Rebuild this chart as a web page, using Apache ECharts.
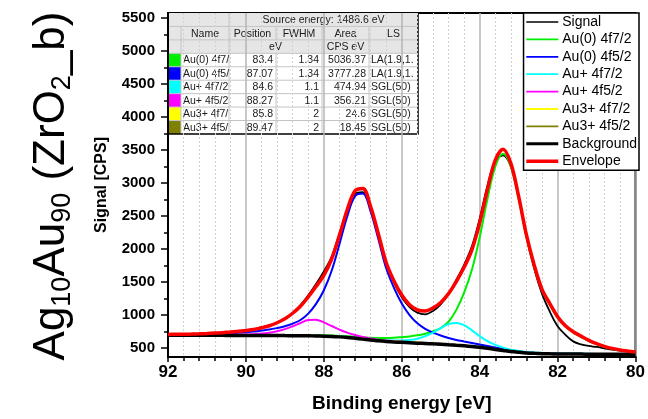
<!DOCTYPE html>
<html><head><meta charset="utf-8">
<script src="https://cdn.jsdelivr.net/npm/echarts@6/dist/echarts.min.js"></script>
<style>html,body{margin:0;padding:0;background:#fff}#chart{width:648px;height:419px}</style>
</head><body><div id="chart"></div><script>
// Au 4f region, binding energy grid (eV)
const energy = [92.0,91.8,91.6,91.4,91.2,91.0,90.8,90.6,90.4,90.2,90.0,89.8,89.6,89.4,89.2,89.0,88.8,88.6,88.4,88.2,
  88.0,87.8,87.6,87.4,87.2,87.0,86.8,86.6,86.4,86.2,86.0,85.8,85.6,85.4,85.2,85.0,84.8,84.6,84.4,84.2,
  84.0,83.8,83.6,83.4,83.2,83.0,82.8,82.6,82.4,82.2,82.0,81.8,81.6,81.4,81.2,81.0,80.8,80.6,80.4,80.2,80.0];

const signal = [703,705,707,709,712,718,724,731,743,752,770,784,815,842,880,945,1030,1150,1300,1470,
  1660,1880,2230,2580,2830,2860,2630,2220,1780,1490,1270,1120,1035,1010,1060,1160,1320,1530,1760,2040,
  2460,2960,3330,3420,3250,2780,2180,1700,1320,1050,830,700,600,555,530,515,495,475,460,448,438];

const au0_4f72 = [693,693,693,693,692,693,693,693,692,693,693,692,693,692,693,692,692,692,692,691,
  689,687,682,677,669,662,655,652,650,654,664,675,692,715,752,801,897,1077,1337,1684,
  2179,2760,3249,3442,3247,2758,2182,1729,1368,1156,960,825,735,669,606,556,517,487,463,447,433];

const au0_4f52 = [699,700,701,703,705,708,713,717,723,730,739,749,764,779,802,829,869,924,1021,1168,
  1375,1670,2073,2494,2799,2842,2569,2148,1707,1411,1175,999,873,790,732,688,652,622,598,575,
  552,530,506,485,464,449,436,428,422,418,415,413,411,411,409,409,408,407,407,407,407];

const aup_4f72 = [693,693,693,693,692,692,692,693,692,692,692,691,691,690,691,690,689,688,687,686,
  683,680,674,665,654,643,631,622,615,612,614,622,641,677,732,801,861,880,845,767,
  680,604,546,505,475,455,440,431,425,420,416,414,413,412,411,410,409,408,408,408,408];

const aup_4f52 = [695,696,696,696,696,697,698,699,700,702,705,708,718,732,753,785,829,878,923,928,
  887,833,778,732,696,667,643,625,612,602,594,586,579,573,567,560,552,544,535,525,
  513,498,480,464,448,436,426,420,415,412,410,409,408,408,407,407,406,406,406,406,406];

const au3_4f72 = [692,692,692,692,691,691,691,691,690,690,690,689,689,688,688,687,686,685,685,683,
  680,676,670,661,650,638,625,616,607,600,595,589,583,577,570,563,553,544,535,524,
  512,496,479,463,447,434,424,418,414,411,409,408,407,407,406,406,405,405,405,405,405];

const au3_4f52 = [693,693,693,693,693,693,694,694,694,695,696,696,696,695,695,693,691,689,687,685,
  681,677,669,660,648,635,621,610,600,592,586,579,573,568,562,556,548,540,532,522,
  510,495,478,462,446,434,424,418,414,411,409,408,407,407,406,406,405,405,405,405,405];

const background = [692,692,692,692,691,691,691,691,690,690,690,689,689,688,688,687,686,685,684,682,
  679,675,668,659,647,634,620,609,599,591,585,579,573,568,562,556,548,540,532,522,
  510,495,478,462,446,434,424,418,414,411,409,408,407,407,406,406,405,405,405,405,405];

const envelope = [705,707,708,710,714,719,726,732,741,752,765,780,806,836,882,941,1026,1131,1275,1431,
  1600,1848,2206,2594,2881,2917,2644,2228,1796,1516,1303,1155,1076,1060,1105,1189,1323,1507,1722,1987,
  2396,2908,3348,3511,3297,2796,2212,1754,1388,1173,974,837,746,679,615,564,525,493,469,453,439];

const yTicks = [500,1000,1500,2000,2500,3000,3500,4000,4500,5000,5500];
const yMinorTicks = [750,1250,1750,2250,2750,3250,3750,4250,4750,5250];

// fit parameter table
const tableNames = ['Au(0) 4f7/','Au(0) 4f5/','Au+ 4f7/2','Au+ 4f5/2','Au3+ 4f7/','Au3+ 4f5/'];
const tablePos = ['83.4','87.07','84.6','88.27','85.8','89.47'];
const tableFwhm = ['1.34','1.34','1.1','1.1','2','2'];
const tableArea = ['5036.37','3777.28','474.94','356.21','24.6','18.45'];
const tableLS = ['LA(1.9,1.','LA(1.9,1.','SGL(50)','SGL(50)','SGL(50)','SGL(50)'];
const headerCols = ['Name','Position','FWHM','Area','LS'];
const sourceText = 'Source energy: 1486.6 eV';

const seriesDefs = [
  {name:'Signal', data:signal, color:'#000000', width:1.8, legendWidth:1.4},
  {name:'Au(0) 4f7/2', data:au0_4f72, color:'#00ee00', width:2, legendWidth:1.8},
  {name:'Au(0) 4f5/2', data:au0_4f52, color:'#0000ff', width:2, legendWidth:1.8},
  {name:'Au+ 4f7/2', data:aup_4f72, color:'#00ffff', width:2, legendWidth:1.8},
  {name:'Au+ 4f5/2', data:aup_4f52, color:'#ff00ff', width:2, legendWidth:1.8},
  {name:'Au3+ 4f7/2', data:au3_4f72, color:'#ffff00', width:2, legendWidth:1.8},
  {name:'Au3+ 4f5/2', data:au3_4f52, color:'#808000', width:2, legendWidth:1.8},
  {name:'Background', data:background, color:'#000000', width:3.5, legendWidth:3},
  {name:'Envelope', data:envelope, color:'#ff0000', width:3.5, legendWidth:3.5}
];

const FONT = 'Liberation Sans, Arial, sans-serif';

// table graphics
const colX = [169, 181, 229, 276, 322, 369, 418];
const rowTop = 13, rowH = 13.44, nRows = 9;
const tableEls = [];
const lineGray = {stroke:'#c4c4c4', lineWidth:1};
tableEls.push({type:'rect', shape:{x:colX[0], y:rowTop, width:colX[6]-colX[0], height:rowH*3}, style:{fill:'#e6e6e6'}});
tableEls.push({type:'rect', shape:{x:colX[0], y:rowTop+rowH*3, width:colX[6]-colX[0], height:rowH*6}, style:{fill:'#ffffff'}});
const swatchColors = seriesDefs.slice(1,7).map(d => d.color);
swatchColors.forEach((c, i) => {
  tableEls.push({type:'rect', shape:{x:colX[0], y:rowTop+rowH*(3+i), width:colX[1]-colX[0], height:rowH}, style:{fill:c}});
});
for (let r = 1; r < nRows; r++) {
  tableEls.push({type:'line', shape:{x1:colX[0], y1:rowTop+rowH*r, x2:colX[6], y2:rowTop+rowH*r}, style:lineGray});
}
function vline(x, r0, r1) {
  tableEls.push({type:'line', shape:{x1:x, y1:rowTop+rowH*r0, x2:x, y2:rowTop+rowH*r1}, style:lineGray});
}
vline(colX[2], 0, 9);
vline(colX[1], 1, 9);
vline(colX[3], 1, 2); vline(colX[3], 3, 9);
vline(colX[4], 1, 9);
vline(colX[5], 1, 9);
tableEls.push({type:'line', shape:{x1:colX[6], y1:rowTop, x2:colX[6], y2:rowTop+rowH*9}, style:{stroke:'#000', lineWidth:1.5}});
tableEls.push({type:'line', shape:{x1:colX[0], y1:rowTop+rowH*9, x2:colX[6]+0.75, y2:rowTop+rowH*9}, style:{stroke:'#000', lineWidth:1.5}});
function cellText(txt, x, row, align) {
  tableEls.push({type:'text', x:x, y:rowTop+rowH*row+rowH/2+0.5, style:{text:txt, fontSize:10.5, fontFamily:FONT, fill:'#1a1a1a', align:align, verticalAlign:'middle'}});
}
cellText(sourceText, (colX[2]+colX[6])/2, 0, 'center');
headerCols.forEach((h, i) => cellText(h, (colX[i+1]+colX[i+2])/2, 1, 'center'));
cellText('eV', (colX[2]+colX[4])/2, 2, 'center');
cellText('CPS eV', (colX[4]+colX[5])/2, 2, 'center');
tableNames.forEach((n, i) => {
  cellText(n, colX[1]+2, 3+i, 'left');
  cellText(tablePos[i], colX[3]-3, 3+i, 'right');
  cellText(tableFwhm[i], colX[4]-3, 3+i, 'right');
  cellText(tableArea[i], colX[5]-3, 3+i, 'right');
  cellText(tableLS[i], colX[5]+2, 3+i, 'left');
});

const chart = echarts.init(document.getElementById('chart'), null, {renderer:'canvas'});
chart.setOption({
  animation:false,
  backgroundColor:'#ffffff',
  textStyle:{fontFamily:FONT},
  grid:{left:168, right:9, top:13, bottom:62, show:true, borderColor:'#000', borderWidth:2, backgroundColor:'transparent'},
  xAxis:{
    type:'value', min:80, max:92, interval:2, inverse:true,
    name:'Binding energy [eV]', nameLocation:'middle', nameGap:37, nameMoveOverlap:false,
    nameTextStyle:{fontSize:19, fontWeight:'bold', color:'#000', fontFamily:FONT},
    axisLine:{lineStyle:{color:'#000', width:2}},
    axisTick:{length:5, lineStyle:{color:'#000', width:1.5}},
    minorTick:{show:true, splitNumber:5, length:4, lineStyle:{color:'#000', width:1.5}},
    axisLabel:{fontSize:17, fontWeight:'bold', color:'#000', margin:7, fontFamily:FONT},
    splitLine:{show:true, lineStyle:{color:'#b4b4b4', width:1.5}},
    minorSplitLine:{show:true, lineStyle:{color:'#d2d2d2', width:1, type:[2,2]}}
  },
  yAxis:[{
    type:'value', min:363, max:5576, position:'left',
    name:'Signal [CPS]', nameLocation:'middle', nameGap:58, nameMoveOverlap:false,
    nameTextStyle:{fontSize:16, fontWeight:'bold', color:'#000', fontFamily:FONT},
    axisLine:{show:true, lineStyle:{color:'#000', width:2}},
    axisTick:{show:true, length:7, customValues:yTicks, lineStyle:{color:'#000', width:1.5}},
    axisLabel:{fontSize:15, fontWeight:'bold', color:'#000', margin:13, customValues:yTicks, fontFamily:FONT,
      formatter:v => String(v)},
    splitLine:{show:false}
  },{
    type:'value', min:363, max:5576, position:'left',
    axisLine:{show:false},
    axisTick:{show:true, length:4, customValues:yMinorTicks, lineStyle:{color:'#000', width:1.5}},
    axisLabel:{show:false},
    splitLine:{show:false}
  }],
  legend:{
    orient:'vertical', right:9, top:13,
    backgroundColor:'#ffffff', borderColor:'#000', borderWidth:1.5, borderRadius:0,
    padding:[2,2,2,1], itemWidth:32, itemHeight:14, itemGap:3.4,
    itemStyle:{opacity:0},
    textStyle:{fontSize:14, color:'#000', fontFamily:FONT, padding:[0,0,0,-1]},
    data:seriesDefs.map(d => ({name:d.name, lineStyle:{width:d.legendWidth, color:d.color, opacity:1}}))
  },
  series:seriesDefs.map((d, k) => ({
    name:d.name, type:'line', yAxisIndex:0, symbol:'none', showSymbol:false, smooth:0.35,
    data:energy.map((e, i) => [e, d.data[i]]),
    lineStyle:{color:d.color, width:d.width},
    itemStyle:{color:d.color},
    z:2+k
  })),
  graphic:{elements:[
    {type:'group', z:50, children:tableEls},
    {type:'text', x:52, y:186, rotation:Math.PI/2, z:50,
      style:{text:'Ag{s|10}Au{s|90} (ZrO{s|2}_b)', fontSize:44, fontFamily:FONT, fill:'#000',
        align:'center', verticalAlign:'middle',
        rich:{s:{fontSize:27, fontFamily:FONT, fill:'#000', padding:[22,0,0,0]}}}}
  ]}
});
</script></body></html>
